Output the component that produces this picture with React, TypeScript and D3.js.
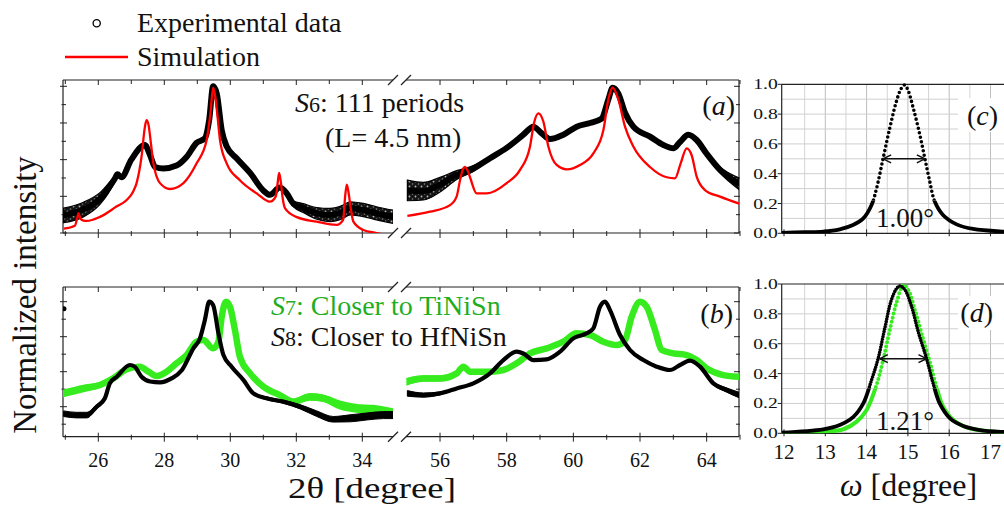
import React from 'react';
import * as d3 from 'd3';

type P = [number, number];
type PS = [number, number, number];

// ---------- tick labels ----------
const xTicksLeft = [26, 28, 30, 32, 34];
const xTicksRight = [56, 58, 60, 62, 64];
const omegaTicks = [12, 13, 14, 15, 16, 17];
const fracTicks = [0, 0.2, 0.4, 0.6, 0.8, 1.0];

// ---------- panel (a): S6 experimental [2θ, I, noise spread] ----------
const aLeftExp: PS[] = [
  [24.95, 0.12, 0.05], [25.55, 0.16, 0.05], [26.05, 0.235, 0.04], [26.5, 0.37, 0.02], [26.58, 0.4, 0.01],
  [26.7, 0.38, 0.01], [27.0, 0.5, 0.01], [27.41, 0.6, 0.005], [27.57, 0.53, 0], [27.72, 0.45, 0],
  [27.97, 0.44, 0], [28.37, 0.46, 0], [28.68, 0.52, 0], [28.98, 0.615, 0], [29.23, 0.645, 0],
  [29.36, 0.77, 0], [29.48, 1.0, 0], [29.59, 0.95, 0], [29.74, 0.7, 0], [29.89, 0.59, 0],
  [30.19, 0.51, 0], [30.6, 0.41, 0], [31.0, 0.29, 0], [31.2, 0.26, 0.01], [31.5, 0.31, 0.01],
  [31.71, 0.27, 0.02], [31.91, 0.2, 0.02], [32.21, 0.17, 0.03], [32.62, 0.134, 0.04], [33.02, 0.123, 0.045],
  [33.42, 0.145, 0.045], [33.63, 0.168, 0.045], [34.03, 0.157, 0.045], [34.43, 0.134, 0.045], [34.95, 0.11, 0.045],
];
const aRightExp: PS[] = [
  [55.02, 0.29, 0.07], [55.5, 0.285, 0.06], [56.0, 0.33, 0.05], [56.5, 0.395, 0.03], [57.0, 0.44, 0.02],
  [57.5, 0.51, 0.01], [58.0, 0.58, 0.005], [58.5, 0.67, 0], [58.8, 0.725, 0], [59.05, 0.68, 0],
  [59.3, 0.64, 0], [59.7, 0.67, 0], [60.1, 0.725, 0], [60.5, 0.75, 0], [60.85, 0.78, 0],
  [61.05, 0.91, 0], [61.18, 0.99, 0], [61.35, 0.95, 0], [61.55, 0.82, 0], [61.8, 0.725, 0],
  [62.3, 0.657, 0], [62.7, 0.6, 0], [63.0, 0.577, 0], [63.2, 0.62, 0], [63.45, 0.67, 0],
  [63.7, 0.634, 0], [64.0, 0.54, 0.01], [64.4, 0.43, 0.02], [64.98, 0.335, 0.04],
];
// ---------- panel (a): simulation ----------
const aLeftSim: P[] = [
  [24.95, 0.03], [25.29, 0.05], [25.36, 0.1], [25.4, 0.135], [25.45, 0.1], [25.55, 0.085], [25.65, 0.082],
  [26.05, 0.11], [26.55, 0.18], [26.86, 0.225], [27.05, 0.28], [27.16, 0.34], [27.31, 0.52], [27.41, 0.72],
  [27.46, 0.77], [27.52, 0.74], [27.6, 0.6], [27.67, 0.475], [27.87, 0.34], [28.17, 0.3], [28.58, 0.34],
  [28.98, 0.475], [29.28, 0.63], [29.4, 0.82], [29.48, 0.99], [29.55, 0.92], [29.62, 0.78], [29.69, 0.63],
  [29.89, 0.475], [30.29, 0.36], [30.8, 0.27], [31.2, 0.214], [31.38, 0.25], [31.44, 0.35], [31.48, 0.41],
  [31.53, 0.35], [31.58, 0.25], [31.66, 0.168], [32.0, 0.11], [32.62, 0.077], [33.22, 0.055], [33.42, 0.09],
  [33.48, 0.25], [33.53, 0.33], [33.58, 0.28], [33.65, 0.17], [33.73, 0.077], [34.03, 0.02], [34.43, 0.0],
  [34.95, -0.025],
];
const aRightSim: P[] = [
  [55.02, 0.116], [55.7, 0.145], [56.3, 0.19], [56.5, 0.25], [56.6, 0.36], [56.68, 0.43], [56.75, 0.45],
  [56.82, 0.43], [56.9, 0.38], [57.1, 0.27], [57.4, 0.27], [58.0, 0.34], [58.4, 0.43], [58.7, 0.59],
  [58.82, 0.75], [58.95, 0.816], [59.1, 0.76], [59.25, 0.59], [59.5, 0.464], [59.8, 0.434], [60.2, 0.464],
  [60.6, 0.543], [60.9, 0.7], [61.05, 0.91], [61.18, 0.99], [61.35, 0.91], [61.55, 0.725], [61.8, 0.59],
  [62.3, 0.45], [62.8, 0.38], [63.05, 0.373], [63.22, 0.475], [63.4, 0.577], [63.55, 0.53], [63.7, 0.384],
  [63.95, 0.293], [64.4, 0.248], [64.98, 0.2],
];

// ---------- panel (b): S8 (black) and S7 (green) ----------
const bLeftS8: PS[] = [
  [24.95, 0.2, 0.02], [25.34, 0.19, 0.02], [25.65, 0.19, 0.02], [25.95, 0.25, 0.015], [26.2, 0.31, 0.01],
  [26.35, 0.417, 0], [26.56, 0.464, 0], [26.96, 0.548, 0], [27.1, 0.536, 0], [27.31, 0.464, 0],
  [27.57, 0.43, 0], [27.87, 0.424, 0], [28.22, 0.452, 0], [28.53, 0.51, 0], [28.88, 0.667, 0],
  [29.08, 0.738, 0], [29.23, 0.87, 0], [29.36, 1.0, 0], [29.48, 0.976, 0], [29.64, 0.774, 0],
  [29.79, 0.62, 0], [30.04, 0.536, 0], [30.4, 0.44, 0], [30.7, 0.345, 0.005], [31.1, 0.31, 0.01],
  [31.6, 0.286, 0.01], [32.11, 0.25, 0.015], [32.62, 0.2, 0.02], [33.12, 0.16, 0.02], [33.63, 0.167, 0.025],
  [34.13, 0.18, 0.025], [34.64, 0.19, 0.025], [34.95, 0.19, 0.025],
];
const bLeftS7: PS[] = [
  [24.95, 0.345, 0.02], [25.55, 0.38, 0.02], [26.05, 0.405, 0.015], [26.45, 0.452, 0.01], [26.86, 0.517, 0.005],
  [27.26, 0.536, 0], [27.52, 0.5, 0], [27.77, 0.469, 0], [28.07, 0.5, 0], [28.37, 0.56, 0],
  [28.68, 0.62, 0], [28.98, 0.714, 0], [29.18, 0.726, 0], [29.48, 0.667, 0], [29.64, 0.714, 0],
  [29.74, 0.893, 0], [29.87, 1.0, 0], [29.99, 0.964, 0], [30.14, 0.798, 0], [30.29, 0.607, 0],
  [30.6, 0.488, 0], [31.0, 0.393, 0], [31.5, 0.333, 0.01], [31.91, 0.286, 0.015], [32.41, 0.32, 0.02],
  [32.82, 0.31, 0.02], [33.32, 0.262, 0.025], [33.83, 0.238, 0.025], [34.33, 0.226, 0.03], [34.95, 0.2, 0.03],
];
const bRightS8: PS[] = [
  [55.02, 0.345, 0.02], [55.5, 0.333, 0.015], [56.0, 0.345, 0.01], [56.5, 0.38, 0.005], [57.0, 0.417, 0],
  [57.5, 0.488, 0], [57.9, 0.583, 0], [58.3, 0.643, 0], [58.5, 0.63, 0], [58.8, 0.583, 0],
  [59.2, 0.588, 0], [59.6, 0.643, 0], [60.0, 0.738, 0], [60.4, 0.774, 0], [60.6, 0.81, 0],
  [60.8, 0.964, 0], [60.95, 1.0, 0], [61.1, 0.94, 0], [61.4, 0.762, 0], [61.7, 0.655, 0],
  [62.1, 0.583, 0], [62.5, 0.536, 0.005], [62.9, 0.512, 0.005], [63.2, 0.548, 0], [63.5, 0.579, 0],
  [63.8, 0.536, 0], [64.2, 0.417, 0.01], [64.6, 0.369, 0.015], [64.98, 0.333, 0.02],
];
const bRightS7: PS[] = [
  [55.02, 0.43, 0.02], [55.5, 0.452, 0.015], [56.0, 0.452, 0.015], [56.5, 0.488, 0.01], [56.7, 0.536, 0.005],
  [56.9, 0.5, 0.005], [57.5, 0.5, 0.005], [57.9, 0.512, 0], [58.3, 0.56, 0], [58.7, 0.631, 0],
  [59.2, 0.667, 0], [59.7, 0.714, 0], [60.1, 0.774, 0], [60.5, 0.762, 0], [60.9, 0.714, 0],
  [61.3, 0.69, 0], [61.55, 0.726, 0], [61.75, 0.893, 0], [62.0, 1.0, 0], [62.2, 0.964, 0],
  [62.45, 0.798, 0], [62.65, 0.655, 0], [63.0, 0.631, 0], [63.4, 0.619, 0], [63.7, 0.583, 0],
  [64.0, 0.524, 0.005], [64.5, 0.476, 0.01], [64.98, 0.464, 0.01],
];
const bStrayS8: P[] = [[24.96, 0.95]];

// ---------- rocking curves (c), (d) [ω, I] ----------
const cS6: P[] = [
  [11.94, 0.003], [12.5, 0.007], [12.95, 0.011], [13.35, 0.027], [13.67, 0.056], [13.92, 0.1], [14.12, 0.19],
  [14.24, 0.3], [14.4, 0.503], [14.56, 0.705], [14.72, 0.884], [14.84, 0.973], [14.92, 0.995], [15.0, 0.962],
  [15.13, 0.84], [15.29, 0.66], [15.41, 0.503], [15.53, 0.347], [15.65, 0.213], [15.85, 0.123], [16.18, 0.06],
  [16.58, 0.029], [17.32, 0.011], [18.0, 0.005],
];
const dS8: P[] = [
  [11.94, 0.005], [12.95, 0.027], [13.35, 0.056], [13.68, 0.11], [13.92, 0.2], [14.12, 0.357], [14.28, 0.502],
  [14.44, 0.703], [14.6, 0.893], [14.73, 0.971], [14.81, 0.987], [14.93, 0.96], [15.09, 0.848], [15.25, 0.68],
  [15.45, 0.502], [15.61, 0.335], [15.77, 0.2], [16.02, 0.1], [16.34, 0.049], [16.74, 0.022], [17.32, 0.009],
  [18.0, 0.004],
];
const dS7: P[] = [
  [11.94, 0.0], [12.95, 0.011], [13.44, 0.027], [13.76, 0.078], [14.0, 0.156], [14.24, 0.324], [14.4, 0.49],
  [14.56, 0.69], [14.73, 0.88], [14.89, 0.993], [15.01, 0.96], [15.17, 0.826], [15.33, 0.67], [15.53, 0.48],
  [15.69, 0.3125], [15.85, 0.18], [16.1, 0.089], [16.42, 0.04], [16.82, 0.018], [17.32, 0.007], [18.0, 0.003],
];
const fwhmC: P = [14.4, 15.41];
const fwhmD: P = [14.32, 15.45];

const SERIF = 'Liberation Serif';
const GREEN = '#36ec1e';
const GREEN_TEXT = '#1fae1f';
const AX = '#222';

export default function App() {
  const xL = d3.scaleLinear().domain([25, 35]).range([65.3, 395.3]);
  const xR = d3.scaleLinear().domain([55, 65]).range([406.7, 740]);
  const yA = d3.scaleLinear().domain([0, 1]).range([233, 86.3]);
  const yB = d3.scaleLinear().domain([0, 1]).range([441.7, 301.7]);
  const xW = d3.scaleLinear().domain([12, 18]).range([784, 1031.8]);
  const yC = d3.scaleLinear().domain([0, 1]).range([233.3, 84.3]);
  const yD = d3.scaleLinear().domain([0, 1]).range([433.3, 284]);

  const lineOf = (data: any[], x: any, y: any, curve: any = d3.curveMonotoneX) =>
    d3.line<any>().x((d) => x(d[0])).y((d) => y(d[1])).curve(curve)(data) || '';
  const bandOf = (data: PS[], x: any, y: any) =>
    d3.area<PS>().x((d) => x(d[0])).y0((d) => y(d[1] - d[2])).y1((d) => y(d[1] + d[2])).curve(d3.curveMonotoneX)(data) || '';

  const leftX = 63, breakL = 393, breakR = 406, rightX = 739;
  const intTicksL = d3.range(25, 35);
  const intTicksR = d3.range(56, 66);
  const T = { fontFamily: SERIF } as const;

  const frame = (top: number, bottom: number, y: any, key: string) => {
    const els: any[] = [];
    for (const yy of [top, bottom]) {
      els.push(<line key={key + 'hl' + yy} x1={leftX} x2={breakL} y1={yy} y2={yy} stroke={AX} strokeWidth={1.2} />);
      els.push(<line key={key + 'hr' + yy} x1={breakR} x2={rightX} y1={yy} y2={yy} stroke={AX} strokeWidth={1.2} />);
      for (const bx of [breakL, breakR]) {
        els.push(<line key={key + 'br' + yy + bx} x1={bx - 5} x2={bx + 5} y1={yy + 5} y2={yy - 5} stroke={AX} strokeWidth={1.3} />);
      }
    }
    els.push(<line key={key + 'vl'} x1={leftX} x2={leftX} y1={top} y2={bottom} stroke={AX} strokeWidth={1.2} />);
    els.push(<line key={key + 'vr'} x1={rightX} x2={rightX} y1={top} y2={bottom} stroke={AX} strokeWidth={1.2} />);
    const xt = (t: number, sc: any, seg: string) => {
      const major = t % 2 === 0;
      const px = sc(t);
      els.push(<line key={key + seg + 'tt' + t} x1={px} x2={px} y1={top} y2={top + (major ? 5 : 4)} stroke={AX} strokeWidth={1} />);
      els.push(<line key={key + seg + 'bt' + t} x1={px} x2={px} y1={bottom - (major ? 4 : 2)} y2={bottom + (major ? 5 : 3)} stroke={AX} strokeWidth={1} />);
    };
    intTicksL.forEach((t) => xt(t, xL, 'L'));
    intTicksR.forEach((t) => xt(t, xR, 'R'));
    d3.range(0, 1.01, 0.125).forEach((v, i) => {
      const py = y(v);
      if (py > bottom + 0.5 || py < top) return;
      const major = i % 2 === 0;
      els.push(<line key={key + 'yl' + i} x1={leftX - (major ? 3 : 1.5)} x2={leftX + (major ? 4 : 3)} y1={py} y2={py} stroke={AX} strokeWidth={1} />);
      els.push(<line key={key + 'yr' + i} x1={rightX - (major ? 5 : 3)} x2={rightX + 1} y1={py} y2={py} stroke={AX} strokeWidth={1} />);
    });
    return els;
  };

  const arrow = (x1: number, x2: number, yy: number, key: string) => (
    <g key={key} stroke="#111" strokeWidth={1.5} fill="none">
      <line x1={x1} x2={x2} y1={yy} y2={yy} />
      <polyline points={`${x1 + 8},${yy - 4} ${x1},${yy} ${x1 + 8},${yy + 4}`} />
      <polyline points={`${x2 - 8},${yy - 4} ${x2},${yy} ${x2 - 8},${yy + 4}`} />
    </g>
  );

  const rockPanel = (y: any, top: number, bottom: number, key: string) => {
    const els: any[] = [];
    const left = 781.7;
    d3.range(12.5, 18, 0.5).forEach((t) => {
      els.push(<line key={key + 'gv' + t} x1={xW(t)} x2={xW(t)} y1={top} y2={bottom} stroke={Number.isInteger(t) ? '#bdbdbd' : '#d4d4d4'} strokeWidth={1} />);
    });
    d3.range(0.1, 1.0, 0.1).forEach((v, i) => {
      els.push(<line key={key + 'gh' + i} x1={left} x2={1004} y1={y(v)} y2={y(v)} stroke="#cfcfcf" strokeWidth={1} />);
    });
    els.push(<line key={key + 'top'} x1={left} x2={1004} y1={top} y2={top} stroke={AX} strokeWidth={1.2} />);
    els.push(<line key={key + 'bot'} x1={left} x2={1004} y1={bottom} y2={bottom} stroke={AX} strokeWidth={1.2} />);
    els.push(<line key={key + 'lft'} x1={left} x2={left} y1={top} y2={bottom} stroke={AX} strokeWidth={1.2} />);
    fracTicks.forEach((v) => {
      els.push(<line key={key + 'yt' + v} x1={left - 4} x2={left} y1={y(v)} y2={y(v)} stroke={AX} strokeWidth={1} />);
      els.push(
        <text key={key + 'yl' + v} style={T} transform={`translate(${left - 4},${y(v) + 5}) scale(1.4,1)`} textAnchor="end" fontSize={14} fill="#111">
          {v.toFixed(1)}
        </text>
      );
    });
    omegaTicks.forEach((t) => {
      els.push(<line key={key + 'xt' + t} x1={xW(t)} x2={xW(t)} y1={bottom - 4} y2={bottom + 3} stroke={AX} strokeWidth={1} />);
    });
    return els;
  };

  const dotted = { fill: 'none', strokeLinecap: 'round' as const, strokeLinejoin: 'round' as const };

  return (
    <svg width={1004} height={507} style={{ position: 'absolute', left: 0, top: 0, background: '#fff', fontFamily: SERIF }}>
      <defs>
        <clipPath id="cAL"><rect x={leftX} y={80} width={breakL - leftX} height={153} /></clipPath>
        <clipPath id="cAR"><rect x={breakR} y={80} width={rightX - breakR} height={153} /></clipPath>
        <clipPath id="cBL"><rect x={leftX} y={287} width={breakL - leftX} height={150} /></clipPath>
        <clipPath id="cBR"><rect x={breakR} y={287} width={rightX - breakR} height={150} /></clipPath>
        <clipPath id="cCtop"><rect x={781.7} y={80} width={230} height={yC(0.22) - 80} /></clipPath>
        <clipPath id="cCbot"><rect x={781.7} y={yC(0.22)} width={230} height={233.3 - yC(0.22)} /></clipPath>
        <clipPath id="cDtop"><rect x={781.7} y={280} width={230} height={yD(0.3) - 280} /></clipPath>
        <clipPath id="cDbot"><rect x={781.7} y={yD(0.3)} width={230} height={433.3 - yD(0.3)} /></clipPath>
        <pattern id="noiseK" width={6} height={5} patternUnits="userSpaceOnUse">
          <rect width={6} height={5} fill="#000" fillOpacity={0.92} />
          <circle cx={1.5} cy={1.5} r={0.9} fill="#fff" fillOpacity={0.7} />
          <circle cx={4.5} cy={4} r={0.8} fill="#fff" fillOpacity={0.5} />
        </pattern>
      </defs>
      <rect x={0} y={0} width={1004} height={507} fill="#fff" />

      {/* legend */}
      <circle cx={96.7} cy={23.3} r={3.6} fill="#fff" stroke="#000" strokeWidth={1.3} />
      <text style={T} x={137} y={32} fontSize={28} fill="#111">Experimental data</text>
      <line x1={65} x2={128} y1={57} y2={57} stroke="#ff0000" strokeWidth={2.5} />
      <text style={T} x={137} y={66} fontSize={28} fill="#111">Simulation</text>

      {frame(80, 233, yA, 'a')}
      {frame(287, 436.7, yB, 'b')}

      {/* panel (a) data */}
      <g clipPath="url(#cAL)">
        <path d={bandOf(aLeftExp, xL, yA)} fill="url(#noiseK)" stroke="#000" strokeWidth={1.2} />
        <path d={lineOf(aLeftExp, xL, yA)} fill="none" stroke="#000" strokeWidth={6} />
        <path d={lineOf(aLeftSim, xL, yA)} fill="none" stroke="#ff0000" strokeWidth={2.3} />
      </g>
      <g clipPath="url(#cAR)">
        <path d={bandOf(aRightExp, xR, yA)} fill="url(#noiseK)" stroke="#000" strokeWidth={1.2} />
        <path d={lineOf(aRightExp, xR, yA)} fill="none" stroke="#000" strokeWidth={6} />
        <path d={lineOf(aRightSim, xR, yA)} fill="none" stroke="#ff0000" strokeWidth={2.3} />
      </g>

      {/* panel (b) data */}
      <g clipPath="url(#cBL)">
        <path d={bandOf(bLeftS7, xL, yB)} fill={GREEN} stroke={GREEN} strokeWidth={2} />
        <path d={lineOf(bLeftS7, xL, yB)} fill="none" stroke={GREEN} strokeWidth={6.5} />
        <path d={bandOf(bLeftS8, xL, yB)} fill="#000" stroke="#000" strokeWidth={1} />
        <path d={lineOf(bLeftS8, xL, yB)} fill="none" stroke="#000" strokeWidth={4.2} />
        {bStrayS8.map((d, i) => <circle key={'st' + i} cx={xL(d[0])} cy={yB(d[1])} r={2.5} fill="#000" />)}
      </g>
      <g clipPath="url(#cBR)">
        <path d={bandOf(bRightS7, xR, yB)} fill={GREEN} stroke={GREEN} strokeWidth={2} />
        <path d={lineOf(bRightS7, xR, yB)} fill="none" stroke={GREEN} strokeWidth={6.5} />
        <path d={bandOf(bRightS8, xR, yB)} fill="#000" stroke="#000" strokeWidth={1} />
        <path d={lineOf(bRightS8, xR, yB)} fill="none" stroke="#000" strokeWidth={4.2} />
      </g>

      {/* annotations (a), (b) */}
      <text style={T} x={295} y={112} fontSize={28} fill="#111">
        <tspan fontStyle="italic">S</tspan><tspan fontSize={22}>6</tspan>: 111 periods
      </text>
      <text style={T} x={325} y={147} fontSize={28} fill="#111">(L= 4.5 nm)</text>
      <text style={T} x={735} y={115} fontSize={28} textAnchor="end" fill="#111">(<tspan fontStyle="italic">a</tspan>)</text>
      <text style={T} x={733} y={323} fontSize={28} textAnchor="end" fill="#111">(<tspan fontStyle="italic">b</tspan>)</text>
      <text style={T} x={271} y={315} fontSize={28} fill={GREEN_TEXT}>
        <tspan fontStyle="italic">S</tspan><tspan fontSize={22}>7</tspan>: Closer to TiNiSn
      </text>
      <text style={T} x={271} y={346} fontSize={28} fill="#111">
        <tspan fontStyle="italic">S</tspan><tspan fontSize={22}>8</tspan>: Closer to HfNiSn
      </text>

      {xTicksLeft.map((t) => (
        <text style={T} key={'xl' + t} x={xL(t)} y={467} fontSize={20} textAnchor="middle" fill="#111">{t}</text>
      ))}
      {xTicksRight.map((t) => (
        <text style={T} key={'xr' + t} x={xR(t)} y={467} fontSize={20} textAnchor="middle" fill="#111">{t}</text>
      ))}
      <text style={T} x={288} y={498} fontSize={29} textLength={168} lengthAdjust="spacingAndGlyphs" fill="#111">2θ [degree]</text>
      <text style={T} transform="translate(36,295) rotate(-90)" fontSize={33} textAnchor="middle" fill="#111">Normalized intensity</text>

      {/* panel (c) */}
      {rockPanel(yC, 84.3, 233.3, 'c')}
      <g clipPath="url(#cCtop)">
        <path d={lineOf(cS6, xW, yC, d3.curveCatmullRom)} {...dotted} stroke="#000" strokeWidth={3.6} strokeDasharray="0 4.6" />
      </g>
      <g clipPath="url(#cCbot)">
        <path d={lineOf(cS6, xW, yC, d3.curveCatmullRom)} {...dotted} stroke="#000" strokeWidth={3.8} />
      </g>
      {arrow(xW(fwhmC[0]), xW(fwhmC[1]), yC(0.5), 'arC')}
      <rect x={958} y={98} width={46} height={34} fill="#fff" />
      <text style={T} x={998} y={125} fontSize={28} textAnchor="end" fill="#111">(<tspan fontStyle="italic">c</tspan>)</text>
      <text style={T} x={905} y={227} fontSize={27} textAnchor="middle" fill="#111">1.00°</text>

      {/* panel (d) */}
      {rockPanel(yD, 284, 433.3, 'd')}
      <g clipPath="url(#cDtop)">
        <path d={lineOf(dS7, xW, yD, d3.curveCatmullRom)} {...dotted} stroke={GREEN} strokeWidth={4} strokeDasharray="0 4.2" />
        <path d={lineOf(dS8, xW, yD, d3.curveCatmullRom)} {...dotted} stroke="#000" strokeWidth={3.6} strokeDasharray="0 2.6" />
      </g>
      <g clipPath="url(#cDbot)">
        <path d={lineOf(dS7, xW, yD, d3.curveCatmullRom)} {...dotted} stroke={GREEN} strokeWidth={4} />
        <path d={lineOf(dS8, xW, yD, d3.curveCatmullRom)} {...dotted} stroke="#000" strokeWidth={3.8} />
      </g>
      {arrow(xW(fwhmD[0]), xW(fwhmD[1]), yD(0.5), 'arD')}
      <rect x={958} y={296} width={46} height={34} fill="#fff" />
      <text style={T} x={993} y={322} fontSize={28} textAnchor="end" fill="#111">(<tspan fontStyle="italic">d</tspan>)</text>
      <text style={T} x={905} y={430} fontSize={27} textAnchor="middle" fill="#111">1.21°</text>
      {omegaTicks.map((t) => (
        <text style={T} key={'ot' + t} x={xW(t)} y={459} fontSize={21} textAnchor="middle" fill="#111">{t}</text>
      ))}
      <text style={T} x={840} y={496} fontSize={32} fill="#111">
        <tspan fontStyle="italic">ω</tspan> [degree]
      </text>
    </svg>
  );
}
